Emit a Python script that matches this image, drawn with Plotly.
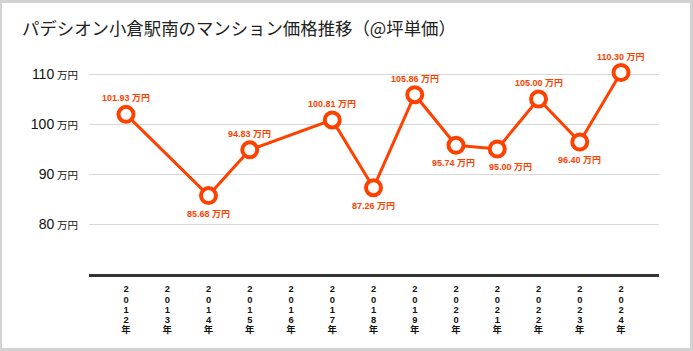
import plotly.graph_objects as go

years = [2012, 2013, 2014, 2015, 2016, 2017, 2018, 2019, 2020, 2021, 2022, 2023, 2024]
prices = [101.93, None, 85.68, 94.83, None, 100.81, 87.26, 105.86, 95.74, 95.00, 105.00, 96.40, 110.30]
label_side = ["top", "top", "bottom", "top", "top", "top",
              "bottom", "top", "bottom", "bottom", "top", "bottom", "top"]
label_nudge = [0, 0, 0, 0, 0, 0, 0, 0, -3, 13, 0, 0, 0]
y_ticks = [80, 90, 100, 110]
title_text = "パデシオン小倉駅南のマンション価格推移（@坪単価）"
unit = "万円"

ORANGE = "#ff4100"

x_ticktext = ["<br>".join(f"<span style='font-size:9.4px'><b>{c}</b></span>" for c in f"{y}年") for y in years]
y_ticktext = [f"{v}\u2009<span style='font-size:10.5px'>{unit}</span>" for v in y_ticks]

fig = go.Figure()
fig.add_trace(go.Scatter(
    x=years, y=prices, mode="lines+markers", connectgaps=True,
    line=dict(color=ORANGE, width=3),
    marker=dict(size=15, color="white", line=dict(color=ORANGE, width=4)),
    hoverinfo="skip",
))

for yr, p, side, dx in zip(years, prices, label_side, label_nudge):
    if p is None:
        continue
    fig.add_annotation(
        x=yr, y=p, text=f"<b>{p:.2f} {unit}</b>", showarrow=False,
        yshift=16 if side == "top" else -18, xshift=dx,
        font=dict(color=ORANGE, size=9, family="Liberation Sans, Noto Sans CJK JP"),
    )

# plot area pixels: x 89..659, y 49..274
L, R, T, B = 89, 34, 49, 77
W, H = 693 - L - R, 351 - T - B

fig.add_shape(type="rect", xref="paper", yref="paper",
              x0=(2 - L) / W, x1=(690 - L) / W, y0=(274 - 348) / H, y1=(274 - 3) / H,
              fillcolor="white", line=dict(width=0), layer="below")

fig.update_layout(
    width=693, height=351,
    margin=dict(l=L, r=R, t=T, b=B),
    paper_bgcolor="#d2d2d2", plot_bgcolor="rgba(0,0,0,0)",
    showlegend=False,
    font=dict(family="Noto Sans CJK JP", color="#1a1a1a"),
    title=dict(text=title_text, xref="container", yref="container", x=22 / 693, xanchor="left",
               y=1 - 29 / 351, yanchor="middle",
               font=dict(size=17.4, color="#222222", family="Noto Sans CJK JP")),
    xaxis=dict(range=[2012 - 0.897, 2024 + 0.921], tickvals=years, ticktext=x_ticktext,
               showgrid=False, zeroline=False, showline=True, linecolor="#333333", linewidth=3,
               ticks="", tickfont=dict(size=7.8, color="#111111", family="Liberation Sans, Noto Sans CJK JP"),
               ticklabelstandoff=6, fixedrange=True),
    yaxis=dict(range=[70, 115], tickvals=y_ticks, ticktext=y_ticktext,
               showgrid=True, gridcolor="#d8d8d8", gridwidth=1.3, zeroline=False, showline=False,
               ticks="", tickfont=dict(size=14, color="#111111", family="Liberation Sans, Noto Sans CJK JP"),
               ticklabelstandoff=10, fixedrange=True),
)

fig.write_html("out.html")
